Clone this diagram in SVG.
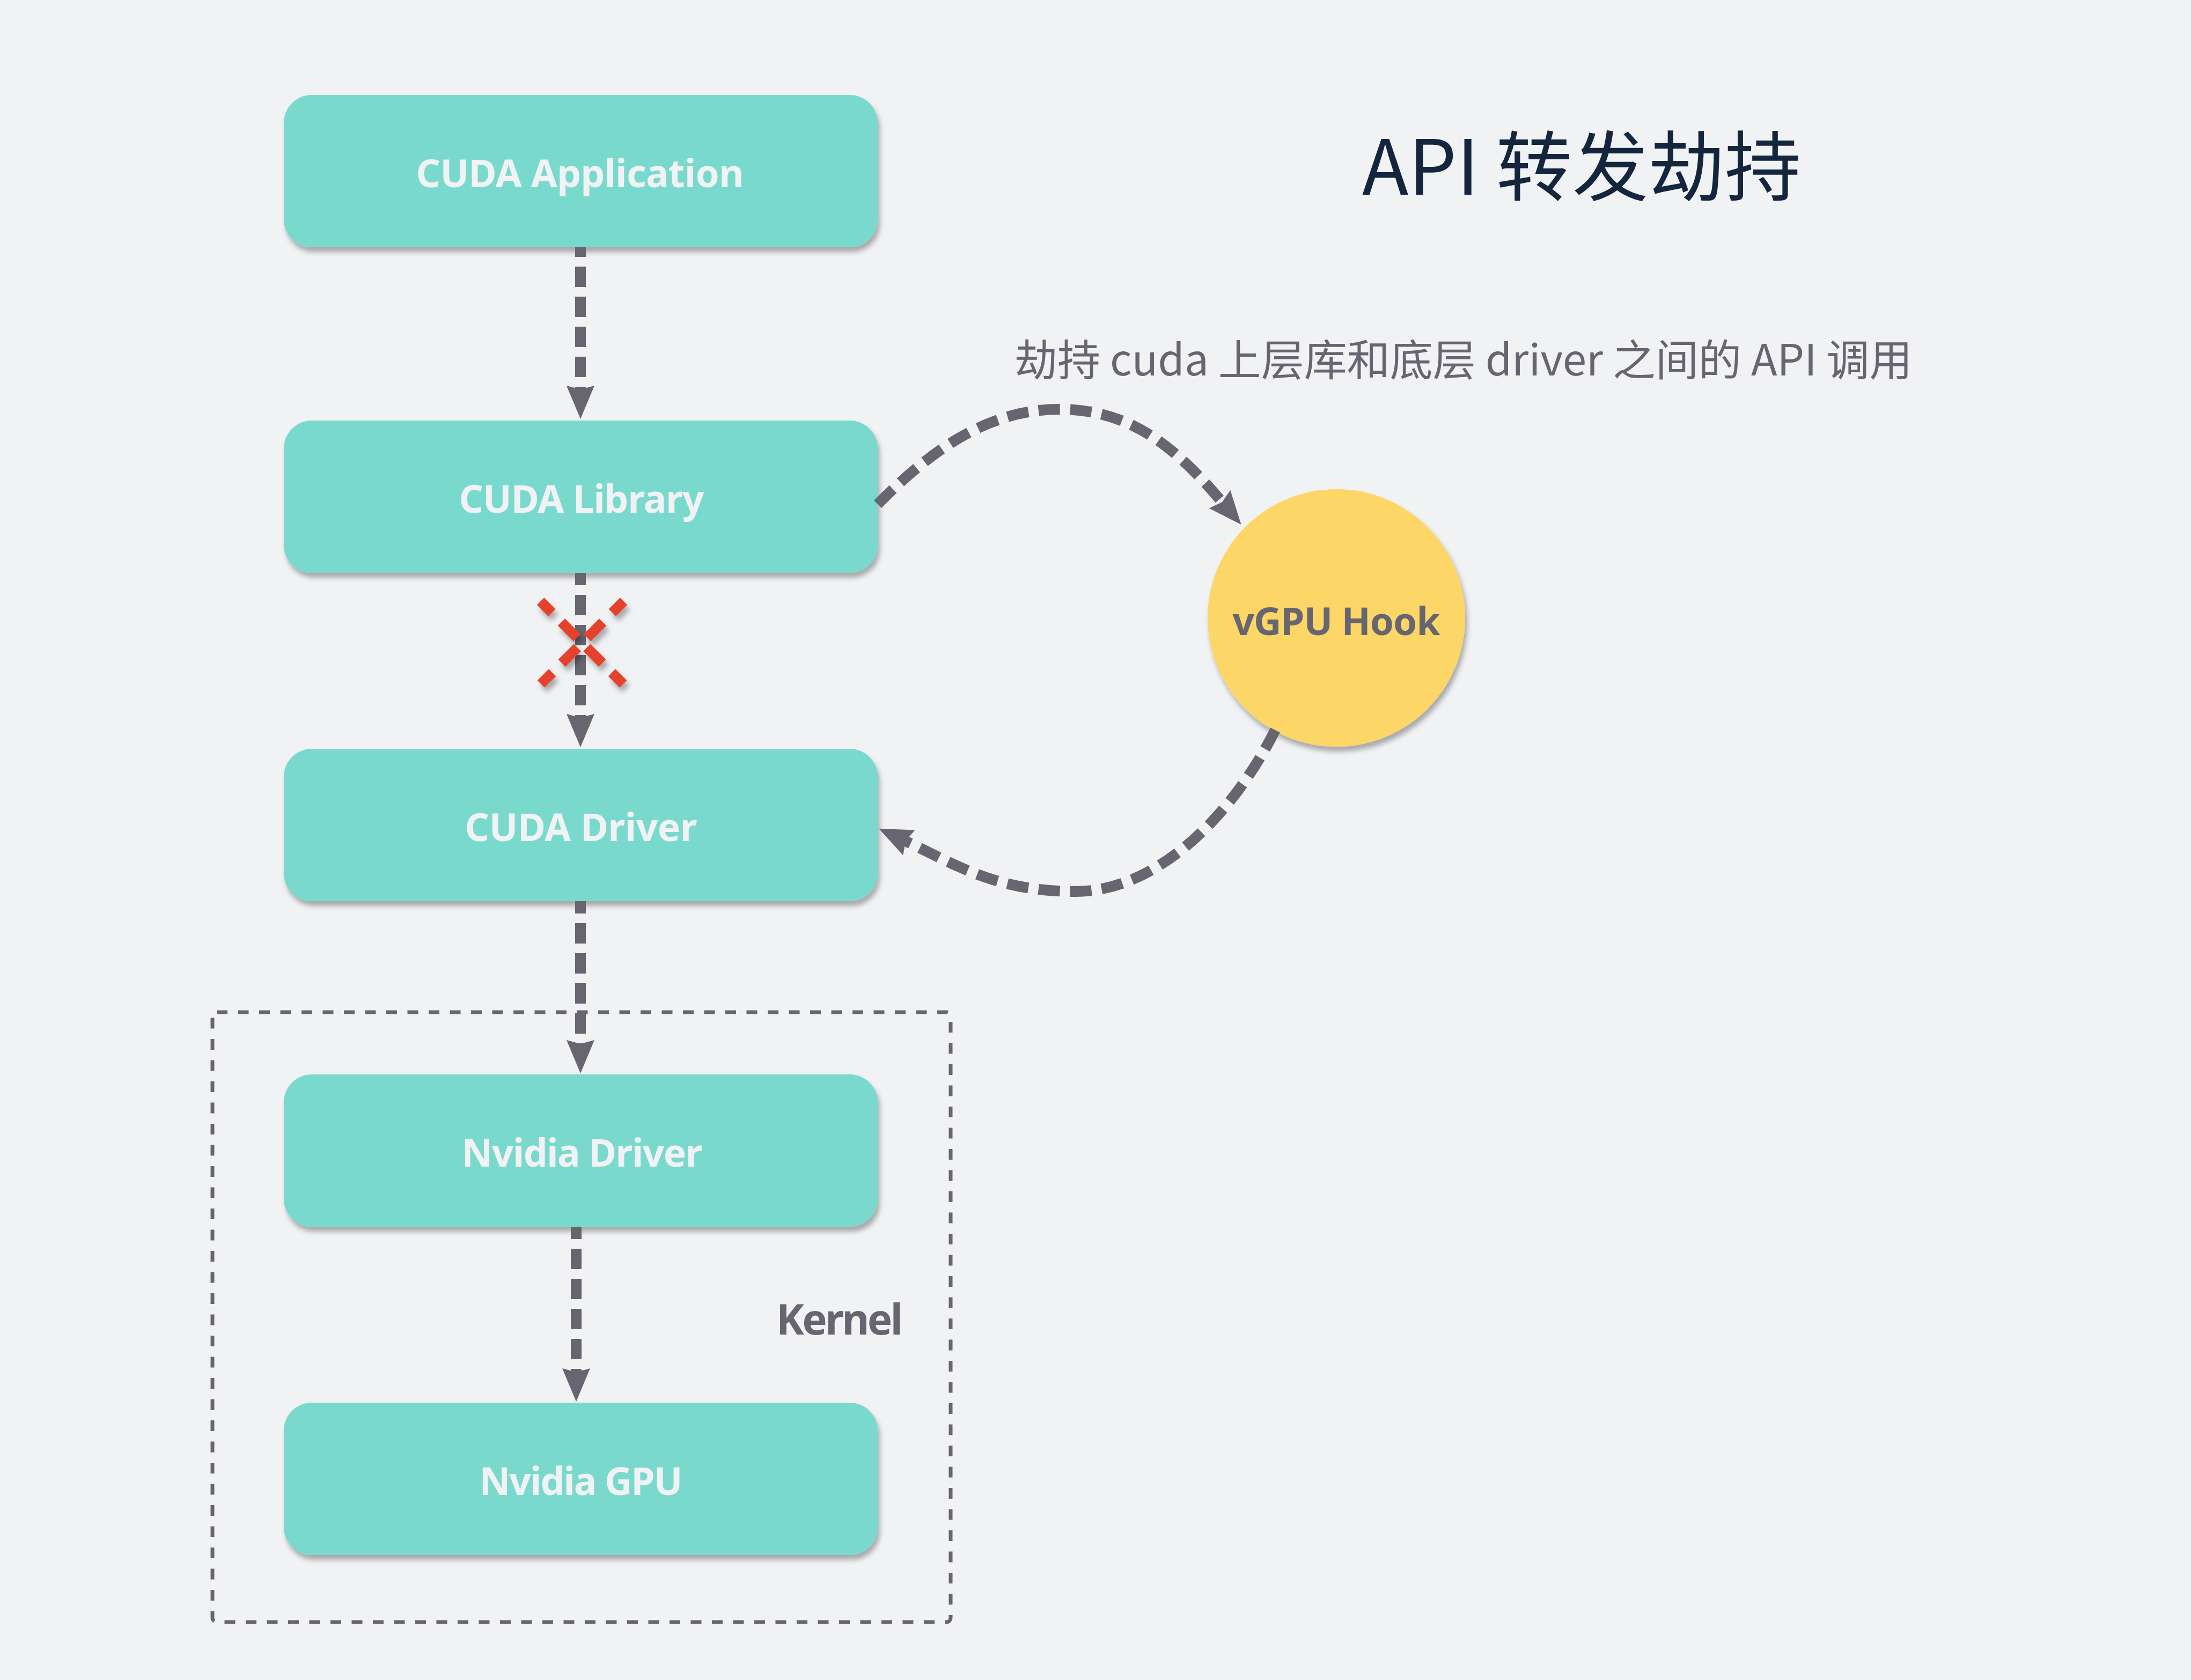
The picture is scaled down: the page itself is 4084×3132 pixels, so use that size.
<svg xmlns="http://www.w3.org/2000/svg" width="4084" height="3132" viewBox="0 0 4084 3132">
  <defs>
    <style>
      .box { fill: #7AD9CD; filter: url(#sh); }
      .lbl { font-family: "Noto Sans", "Open Sans", sans-serif; font-weight: 700; font-size: 71px; fill: #F1F2F4; text-anchor: middle; }
      .conn { fill: none; stroke: #676570; stroke-width: 20; stroke-dasharray: 38 18; marker-end: url(#arr); }
      .curve { fill: none; stroke: #676570; stroke-width: 20; stroke-dasharray: 40 19; marker-end: url(#arr); }
      .xline { fill: none; stroke: #E5432D; stroke-width: 19; stroke-dasharray: 30 25 41 26 41 25 30 400; }
    </style>
    <filter id="sh" x="-10%" y="-10%" width="130%" height="140%">
      <feDropShadow dx="4" dy="9" stdDeviation="5" flood-color="#000" flood-opacity="0.3"/>
    </filter>
    <filter id="shx" x="-30%" y="-30%" width="170%" height="170%">
      <feDropShadow dx="5" dy="9" stdDeviation="5" flood-color="#000" flood-opacity="0.3"/>
    </filter>
    <marker id="arr" viewBox="0 -27 63 54" refX="7" refY="0" markerWidth="63" markerHeight="54" markerUnits="userSpaceOnUse" orient="auto" overflow="visible">
      <path d="M0,-26 L62,0 L0,26 L7,0 Z" fill="#676570"/>
    </marker>
  </defs>

  <rect x="0" y="0" width="4084" height="3132" fill="#F1F2F4"/>

  <g id="kernel">
    <rect x="396" y="1887" width="1376" height="1137" rx="8" fill="none" stroke="#676570" stroke-width="7" stroke-dasharray="20 19.5"/>
    <text x="1447" y="2488" font-family="'Noto Sans', 'Open Sans', sans-serif" font-weight="700" font-size="78" fill="#676570" textLength="236">Kernel</text>
  </g>

  <g id="title">
    <text x="2539" y="363" font-family="'Noto Sans CJK SC', 'Noto Sans', sans-serif" font-size="142" fill="#14263E">API 转发劫持</text>
  </g>
  <g id="subtitle">
    <text x="1891" y="700" font-family="'Noto Sans CJK SC', 'Noto Sans', sans-serif" font-size="80" fill="#676570">劫持 cuda 上层库和底层 driver 之间的 API 调用</text>
  </g>

  <g id="cuda-application">
    <rect class="box" x="529" y="177" width="1107" height="284" rx="52"/>
    <text class="lbl" x="1081" y="349" textLength="611">CUDA Application</text>
  </g>
  <g id="cuda-library">
    <rect class="box" x="529" y="784" width="1107" height="284" rx="52"/>
    <text class="lbl" x="1084" y="956" textLength="457">CUDA Library</text>
  </g>
  <g id="cuda-driver">
    <rect class="box" x="529" y="1396" width="1107" height="284" rx="52"/>
    <text class="lbl" x="1083" y="1568" textLength="433">CUDA Driver</text>
  </g>
  <g id="nvidia-driver">
    <rect class="box" x="529" y="2003" width="1107" height="284" rx="52"/>
    <text class="lbl" x="1085" y="2175" textLength="449">Nvidia Driver</text>
  </g>
  <g id="nvidia-gpu">
    <rect class="box" x="529" y="2615" width="1107" height="284" rx="52"/>
    <text class="lbl" x="1083" y="2787" textLength="379">Nvidia GPU</text>
  </g>
  <g id="vgpu-hook">
    <circle cx="2491" cy="1152" r="240" fill="#FCD666" filter="url(#sh)"/>
    <text x="2491" y="1184" font-family="'Noto Sans', 'Open Sans', sans-serif" font-weight="700" font-size="71" fill="#676570" text-anchor="middle" textLength="387">vGPU Hook</text>
  </g>

  <g id="connectors">
    <path class="conn" d="M1082,461 L1082,726" stroke-dashoffset="20"/>
    <path class="conn" d="M1082,1068 L1082,1338" stroke-dashoffset="15"/>
    <path class="conn" d="M1082,1680 L1082,1946" stroke-dashoffset="15"/>
    <path class="conn" d="M1074,2287 L1074,2558" stroke-dashoffset="15"/>
    <path class="curve" d="M1636,940 C1727,848 1835,763 1975,763 C2110,763 2194,837 2278,936"/>
    <path class="curve" d="M2377,1361 C2296,1523 2155,1662 2005,1662 C1855,1662 1780,1611 1688,1568"/>
    <g id="blocked" filter="url(#shx)">
      <path class="xline" d="M1007.5,1121 L1162.5,1276"/>
      <path class="xline" d="M1162.5,1121 L1007.5,1276"/>
    </g>
  </g>
</svg>
